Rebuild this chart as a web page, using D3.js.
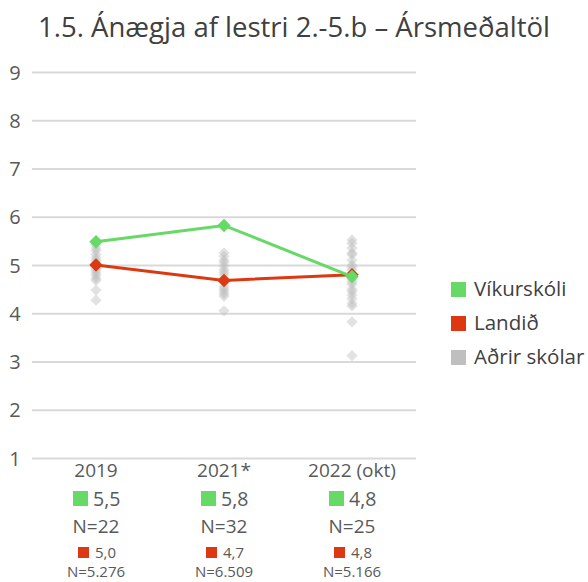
<!DOCTYPE html>
<html><head><meta charset="utf-8">
<script src="https://cdn.jsdelivr.net/npm/d3@7"></script>
<style>body{margin:0;background:#fff;} text{font-family:"Open Sans","Noto Sans",sans-serif;}</style>
</head><body>
<svg id="c" width="588" height="582"></svg>
<script>
const title = "1.5. Ánægja af lestri 2.-5.b – Ársmeðaltöl";
const categories = ["2019", "2021*", "2022 (okt)"];
const vikurskoli = [5.48, 5.82, 4.76];
const landid = [5.0, 4.68, 4.8];
const vikLabels = ["5,5", "5,8", "4,8"];
const vikN = ["N=22", "N=32", "N=25"];
const landLabels = ["5,0", "4,7", "4,8"];
const landN = ["N=5.276", "N=6.509", "N=5.166"];
const other2019 = [5.42, 5.35, 5.3, 5.22, 5.15, 5.1, 5.05, 4.98, 4.92, 4.88, 4.83, 4.78, 4.72, 4.68, 4.48, 4.27];
const other2021 = [5.25, 5.18, 5.1, 5.05, 4.98, 4.9, 4.85, 4.8, 4.72, 4.65, 4.55, 4.5, 4.45, 4.4, 4.35, 4.05];
const other2022 = [5.52, 5.45, 5.35, 5.25, 5.22, 5.1, 5.0, 4.95, 4.9, 4.8, 4.7, 4.65, 4.6, 4.5, 4.45, 4.38, 4.3, 4.2, 4.15, 3.82, 3.12];
const yTicks = [1,2,3,4,5,6,7,8,9];
const legendNames = ["Víkurskóli", "Landið", "Aðrir skólar"];

const green = "#66d966", red = "#dc3912", gray = "#bfbfbf", textCol = "#595959";
const svg = d3.select("#c");
const x = d3.scaleBand().domain(categories).range([32, 416]);
const cx = c => x(c) + x.bandwidth()/2;
const y = d3.scaleLinear().domain([1, 9]).range([458, 72]);

svg.append("text").attr("x", 294).attr("y", 37).attr("text-anchor","middle")
  .attr("font-size", 27.5).attr("fill", "#404040").text(title);

// grid
const yAxis = d3.axisLeft(y).tickValues(yTicks).tickSize(-(416-32)).tickPadding(10).tickFormat(d3.format("d"));
const ga = svg.append("g").attr("transform","translate(32,0)").call(yAxis);
ga.select(".domain").remove();
ga.selectAll(".tick line").attr("stroke","#d9d9d9").attr("stroke-width",2);
ga.selectAll(".tick text").attr("font-size",20).attr("fill",textCol).attr("x",-17).attr("text-anchor","middle").attr("dy","0.35em");

// other schools
const others = [other2019, other2021, other2022];
others.forEach((arr, i) => {
  svg.append("g").selectAll("path").data(arr).join("path")
    .attr("d", d3.symbol().type(d3.symbolDiamond2).size(80))
    .attr("transform", d => `translate(${cx(categories[i])},${y(d)})`)
    .attr("fill", gray).attr("opacity", 0.45);
});

function series(vals, col) {
  const line = d3.line().x((d,i)=>cx(categories[i])).y(d=>y(d));
  svg.append("path").datum(vals).attr("d", line).attr("fill","none").attr("stroke",col).attr("stroke-width",3);
  svg.append("g").selectAll("path").data(vals).join("path")
    .attr("d", d3.symbol().type(d3.symbolDiamond2).size(115))
    .attr("transform", (d,i) => `translate(${cx(categories[i])},${y(d)})`)
    .attr("fill", col);
}
series(landid, red);
series(vikurskoli, green);

// category labels and data tables
categories.forEach((c, i) => {
  const X = cx(c);
  svg.append("text").attr("x", X).attr("y", 477).attr("text-anchor","middle").attr("font-size",19).attr("fill",textCol).text(c);
  svg.append("rect").attr("x", X-23).attr("y", 491).attr("width",15).attr("height",15).attr("fill",green);
  svg.append("text").attr("x", X-3).attr("y", 506).attr("font-size",19.5).attr("fill",textCol).text(vikLabels[i]);
  svg.append("text").attr("x", X).attr("y", 533).attr("text-anchor","middle").attr("font-size",19).attr("fill",textCol).text(vikN[i]);
  svg.append("rect").attr("x", X-18).attr("y", 547).attr("width",11).attr("height",11).attr("fill",red);
  svg.append("text").attr("x", X-1).attr("y", 558).attr("font-size",15).attr("fill",textCol).text(landLabels[i]);
  svg.append("text").attr("x", X).attr("y", 577).attr("text-anchor","middle").attr("font-size",15).attr("fill",textCol).text(landN[i]);
});

// legend
const legCols = [green, red, gray];
legendNames.forEach((n, i) => {
  const Y = 289 + i*34;
  svg.append("rect").attr("x", 451).attr("y", Y-7).attr("width",15).attr("height",15).attr("fill",legCols[i]);
  svg.append("text").attr("x", 474).attr("y", Y).attr("dy","0.35em").attr("font-size",20.5).attr("fill","#404040").text(n);
});
</script>
</body></html>
